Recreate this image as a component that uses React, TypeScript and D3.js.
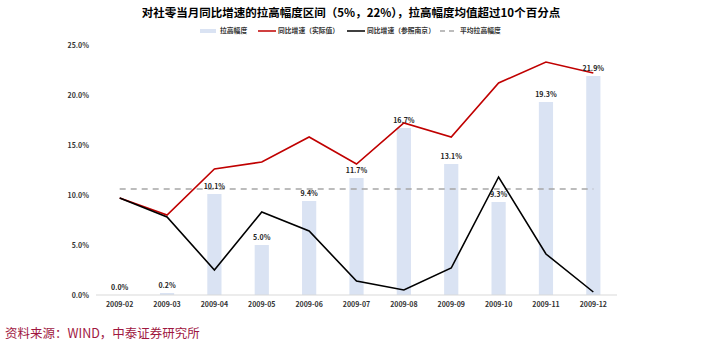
import React from 'react';
import * as d3 from 'd3';

const months = ['2009-02', '2009-03', '2009-04', '2009-05', '2009-06', '2009-07', '2009-08', '2009-09', '2009-10', '2009-11', '2009-12'];
const liftValues = [0.0, 0.2, 10.1, 5.0, 9.4, 11.7, 16.7, 13.1, 9.3, 19.3, 21.9];
const actualGrowth = [9.7, 8.0, 12.6, 13.3, 15.8, 13.1, 17.2, 15.8, 21.2, 23.3, 22.2];
const nanjingGrowth = [9.7, 7.8, 2.5, 8.3, 6.4, 1.4, 0.5, 2.7, 11.8, 4.1, 0.3];
const yTicks = [0, 5, 10, 15, 20, 25];

const FONT = '"Noto Sans CJK SC", "Noto Sans", sans-serif';

export default function App() {
  const width = 701;
  const height = 353;
  const margin = { top: 45, right: 84, bottom: 58, left: 96 };

  // scales
  const x = d3.scaleBand<string>()
    .domain(months)
    .range([margin.left, width - margin.right])
    .paddingInner(0.7)
    .paddingOuter(0.35);
  const band = d3.scaleBand<string>()
    .domain(months)
    .range([margin.left, width - margin.right]);
  const cx = (m: string) => band(m)! + band.bandwidth() / 2;

  const y = d3.scaleLinear().domain([0, 25]).range([height - margin.bottom, margin.top]);

  const avg = d3.mean(liftValues)!;

  const line = d3.line<number>()
    .x((_, i) => cx(months[i]))
    .y(d => y(d));

  const legend = [
    { kind: 'bar', label: '拉高幅度', x: 200 },
    { kind: 'red', label: '同比增速（实际值）', x: 258 },
    { kind: 'black', label: '同比增速（参照南京）', x: 347 },
    { kind: 'dash', label: '平均拉高幅度', x: 440 },
  ];

  return (
    <svg width={width} height={height} style={{ display: 'block', position: 'absolute', left: 0, top: 0, background: '#fff' }} fontFamily={FONT}>
      <text x={351} y={17} textAnchor="middle" fontSize={11.5} fontWeight="bold" fill="#000">
        对社零当月同比增速的拉高幅度区间（5%，22%），拉高幅度均值超过10个百分点
      </text>

      {/* legend */}
      <g fontSize={6.8} fontWeight="bold" fill="#333">
        {legend.map(l => (
          <g key={l.label}>
            {l.kind === 'bar' && <rect x={l.x} y={29} width={16} height={4} fill="#dae3f3" />}
            {l.kind === 'red' && <line x1={l.x} x2={l.x + 18} y1={31} y2={31} stroke="#c00000" strokeWidth={1.5} />}
            {l.kind === 'black' && <line x1={l.x} x2={l.x + 18} y1={31} y2={31} stroke="#000" strokeWidth={1.5} />}
            {l.kind === 'dash' && <line x1={l.x} x2={l.x + 18} y1={31} y2={31} stroke="#a6a6a6" strokeWidth={1.5} strokeDasharray="5,4" />}
            <text x={l.x + 20} y={33.4}>{l.label}</text>
          </g>
        ))}
      </g>

      {/* y axis labels */}
      <g fontSize={7} fontWeight="bold" fill="#333" textAnchor="end">
        {yTicks.map(t => (
          <text key={t} x={89} y={y(t) + 2.5}>{t.toFixed(1)}%</text>
        ))}
      </g>

      {/* bars */}
      {months.map((m, i) => (
        <rect key={m} x={x(m)} y={y(liftValues[i])} width={x.bandwidth()} height={y(0) - y(liftValues[i])} fill="#dae3f3" />
      ))}

      {/* x axis */}
      <line x1={margin.left} x2={width - margin.right} y1={y(0)} y2={y(0)} stroke="#d9d9d9" strokeWidth={1} />
      <g fontSize={7} fontWeight="bold" fill="#333" textAnchor="middle">
        {months.map(m => (
          <text key={m} x={cx(m)} y={y(0) + 12}>{m}</text>
        ))}
      </g>

      {/* average dashed */}
      <line x1={cx(months[0])} x2={cx(months[months.length - 1])} y1={y(avg)} y2={y(avg)} stroke="#a6a6a6" strokeWidth={1.5} strokeDasharray="6,5" />

      {/* lines */}
      <path d={line(actualGrowth)!} fill="none" stroke="#c00000" strokeWidth={1.6} />
      <path d={line(nanjingGrowth)!} fill="none" stroke="#000" strokeWidth={1.6} />

      {/* bar labels */}
      <g fontSize={7} fontWeight="bold" fill="#222" textAnchor="middle">
        {months.map((m, i) => (
          <text key={m} x={cx(m)} y={y(liftValues[i]) - 5}>{liftValues[i].toFixed(1)}%</text>
        ))}
      </g>

      <text x={5} y={338} fontSize={12.5} fill="#a0173f">资料来源：WIND，中泰证券研究所</text>
    </svg>
  );
}
